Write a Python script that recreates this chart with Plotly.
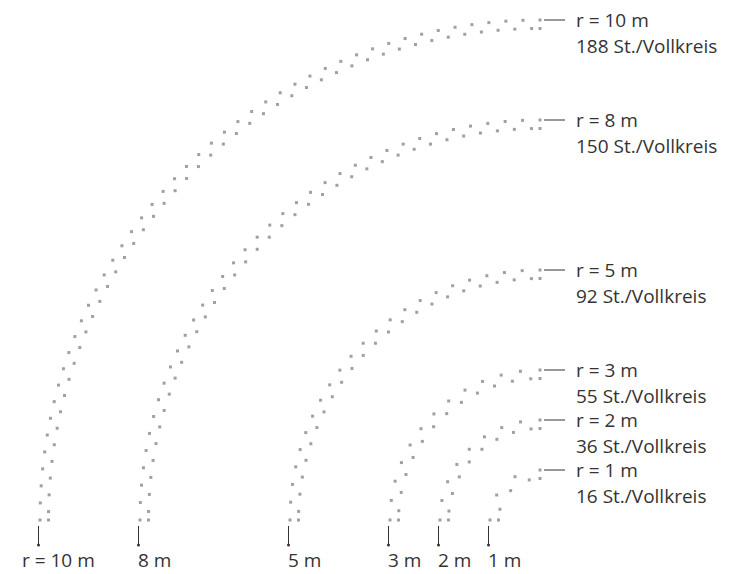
import numpy as np
import plotly.graph_objects as go

# Radien (m) und Stückzahl pro Vollkreis
radii = [10, 8, 5, 3, 2, 1]
stems_full_circle = [188, 150, 92, 55, 36, 16]
bottom_labels = ["r = 10 m", "8 m", "5 m", "3 m", "2 m", "1 m"]

DOT = "#a0a0a0"
TEXT = "#333333"
ROW_GAP = 0.17  # Abstand innere/äußere Reihe (m)
FONT = dict(family="Open Sans, sans-serif", size=19, color=TEXT)

fig = go.Figure()

for r, n_full in zip(radii, stems_full_circle):
    n = n_full // 4  # Stück pro Viertelkreis und Reihe
    step = 90.0 / (n - 1)
    outer = np.radians(np.arange(n) * step)
    inner = np.radians(np.concatenate([[0], (np.arange(n - 1) + 0.5) * step, [90]]))
    xs = np.concatenate([-r * np.cos(outer), -(r - ROW_GAP) * np.cos(inner)])
    ys = np.concatenate([r * np.sin(outer), (r - ROW_GAP) * np.sin(inner)])
    fig.add_trace(go.Scatter(
        x=xs, y=ys, mode="markers",
        marker=dict(size=3, color=DOT, symbol="square", line=dict(width=0)),
        hoverinfo="skip", showlegend=False,
    ))

    # Beschriftung rechts
    fig.add_shape(type="line", x0=0.08, x1=0.5, y0=r, y1=r,
                  line=dict(color=TEXT, width=1))
    fig.add_annotation(x=0.68, y=r, text=f"r = {r} m", showarrow=False,
                       xanchor="left", yanchor="middle", font=FONT)
    fig.add_annotation(x=0.68, y=r - 0.52, text=f"{n_full} St./Vollkreis",
                       showarrow=False, xanchor="left", yanchor="middle",
                       font=FONT)

# Markierungen unten
for i, (r, lab) in enumerate(zip(radii, bottom_labels)):
    fig.add_shape(type="line", x0=-r - 0.03, x1=-r - 0.03, y0=-0.12, y1=-0.5,
                  line=dict(color=TEXT, width=1))
    fig.add_trace(go.Scatter(
        x=[-r - 0.03], y=[-0.5], mode="markers",
        marker=dict(size=3, color=TEXT), hoverinfo="skip", showlegend=False,
    ))
    lx = -10.4 if i == 0 else -r - 0.08
    fig.add_annotation(x=lx, y=-0.8, text=lab, showarrow=False,
                       xanchor="left", yanchor="middle", font=FONT)

# Seite hat 8 px Rand -> Figur etwas kleiner, Zentrum bei (532, 512)
fig.update_layout(
    width=747, height=566,
    margin=dict(l=0, r=0, t=0, b=0),
    paper_bgcolor="white", plot_bgcolor="white",
    font=FONT,
    xaxis=dict(range=[-10.64, 4.3], visible=False, fixedrange=True),
    yaxis=dict(range=[-1.08, 10.24], visible=False, fixedrange=True),
)

fig.write_html("out.html")
